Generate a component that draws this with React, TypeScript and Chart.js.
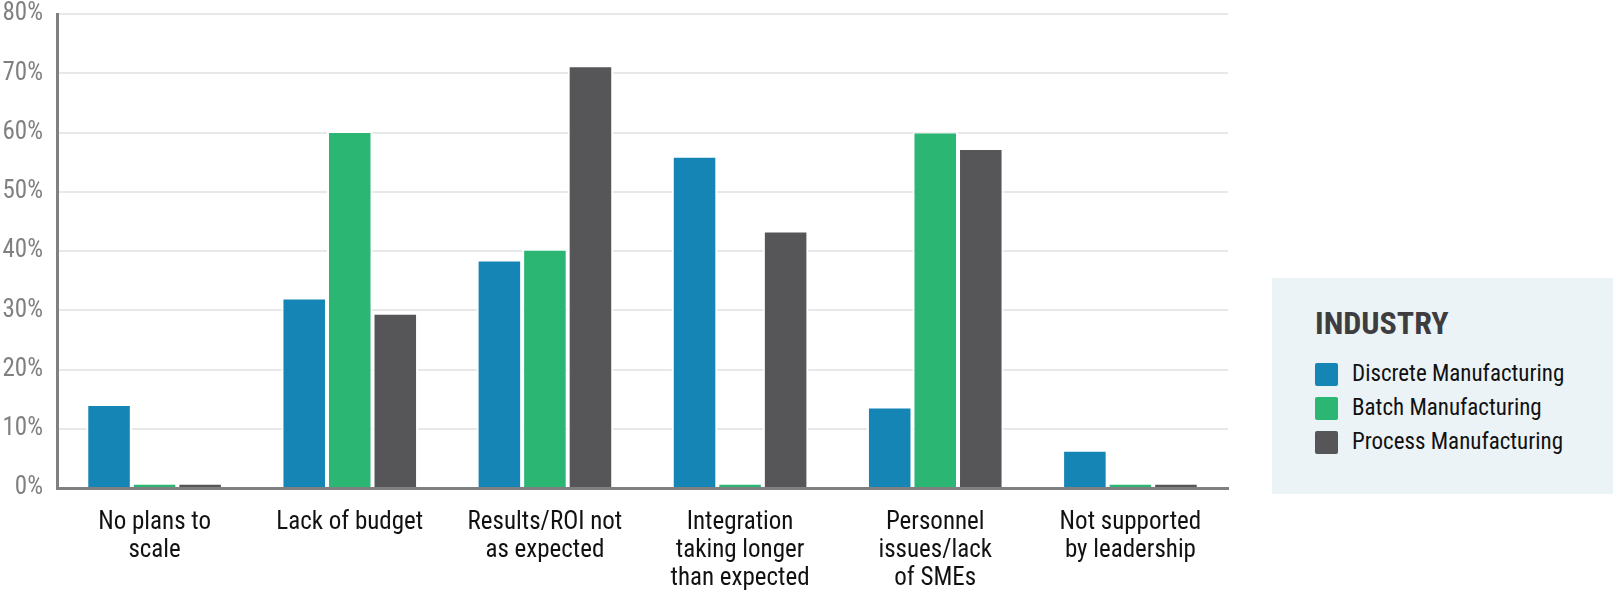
import React, { useEffect, useRef } from "react";
import { Chart, registerables } from "chart.js";

Chart.register(...registerables);

const categories: (string | string[])[] = [
  ["No plans to", "scale"],
  "Lack of budget",
  ["Results/ROI not", "as expected"],
  ["Integration", "taking longer", "than expected"],
  ["Personnel", "issues/lack", "of SMEs"],
  ["Not supported", "by leadership"],
];

const seriesNames = ["Discrete Manufacturing", "Batch Manufacturing", "Process Manufacturing"];
const seriesColors = ["#1585b5", "#2bb673", "#565659"];

const discrete = [14.0, 32.0, 38.4, 55.9, 13.6, 6.3];
const batch = [0.7, 60.1, 40.2, 0.7, 60.0, 0.7];
const processVals = [0.7, 29.4, 71.2, 43.3, 57.2, 0.7];

const yTicks = [0, 10, 20, 30, 40, 50, 60, 70, 80];

const FONT = "'Liberation Sans Narrow', 'Roboto Condensed', 'DejaVu Sans Condensed', Arial, sans-serif";

export default function App() {
  const ref = useRef<HTMLCanvasElement | null>(null);

  useEffect(() => {
    document.body.style.margin = "0";
    const canvas = ref.current;
    if (!canvas) return;
    const values = [discrete, batch, processVals];
    const chart = new Chart(canvas, {
      type: "bar",
      data: {
        labels: categories as any,
        datasets: values.map((v, i) => ({
          label: seriesNames[i],
          data: v,
          backgroundColor: seriesColors[i],
          borderColor: "#ffffff",
          borderWidth: { top: 1, left: 2, right: 2, bottom: 0 },
          borderSkipped: "bottom" as const,
          categoryPercentage: 0.7,
          barPercentage: 1.0,
        })),
      },
      options: {
        responsive: false,
        animation: false,
        devicePixelRatio: 1,
        layout: { padding: { top: 14, right: 385, bottom: 0, left: 0 } },
        plugins: {
          legend: { display: false },
          tooltip: { enabled: false },
        },
        scales: {
          x: {
            grid: { display: false },
            border: { display: true, color: "#808083", width: 3 },
            ticks: {
              color: "#111111",
              font: { family: FONT, size: 25, lineHeight: 1.12 },
              padding: 13,
              maxRotation: 0,
              autoSkip: false,
            },
            afterFit: (s: any) => {
              s.height = 103;
            },
          },
          y: {
            min: 0,
            max: 80,
            afterBuildTicks: (s: any) => {
              s.ticks = yTicks.map((v) => ({ value: v }));
            },
            grid: { color: "#e8e8e8", lineWidth: 2, drawTicks: false },
            border: { display: true, color: "#808083", width: 3 },
            ticks: {
              color: "#808083",
              font: { family: FONT, size: 25 },
              padding: 14,
              callback: (v: any) => v + "%",
            },
            afterFit: (s: any) => {
              s.width = 57;
              s.paddingTop = 0;
              s.paddingBottom = 0;
            },
          },
        },
      },
    });
    return () => chart.destroy();
  }, []);

  return (
    <div style={{ position: "relative", width: 1613, height: 591 }}>
      <canvas ref={ref} width={1613} height={591} style={{ display: "block" }} />
      <div
        style={{
          position: "absolute",
          left: 1272,
          top: 278,
          width: 341,
          height: 216,
          background: "#ecf3f7",
          fontFamily: FONT,
        }}
      >
        <div
          style={{
            position: "absolute",
            left: 43,
            top: 27,
            fontSize: 32,
            fontWeight: "bold",
            color: "#3d3d3f",
            lineHeight: "36px",
          }}
        >
          INDUSTRY
        </div>
        {seriesNames.map((n, i) => (
          <div
            key={n}
            style={{
              position: "absolute",
              left: 43,
              top: 84 + i * 34,
              height: 24,
              display: "flex",
              alignItems: "center",
            }}
          >
            <div
              style={{
                width: 23,
                height: 23,
                background: seriesColors[i],
                borderRadius: 2,
                marginRight: 14,
              }}
            />
            <span style={{ fontSize: 23, color: "#111111", lineHeight: "24px" }}>{n}</span>
          </div>
        ))}
      </div>
    </div>
  );
}
